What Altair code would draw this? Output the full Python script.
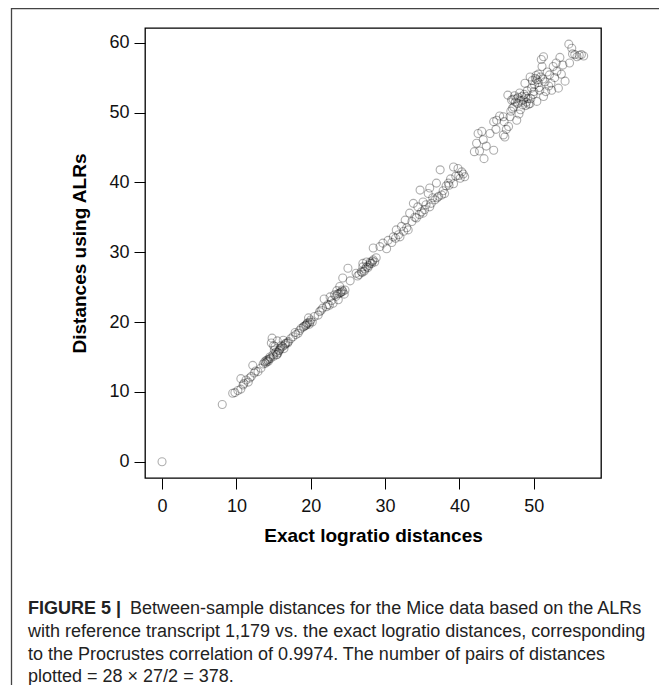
import altair as alt
import pandas as pd

# Exact logratio distances (x) and distances using ALRs (y)
x_exact = [0.0, 8.1, 9.5, 9.8, 10.2, 10.6, 10.9, 10.6, 11.3, 11.6, 12.0, 12.4, 12.2, 12.9, 13.3,
           13.8, 14.0, 14.2, 13.9, 14.5, 14.8, 14.7, 15.1, 15.4, 15.6, 15.8, 15.2, 16.0, 16.3, 16.7,
           16.4, 17.0, 17.6, 17.9, 18.3, 18.7, 19.0, 19.4, 19.6, 19.9, 19.7, 20.5, 21.0, 21.2, 21.6,
           22.1, 21.8, 22.5, 23.0, 23.2, 23.7, 23.5, 24.0, 24.3, 24.5, 23.9, 24.3, 25.0, 25.3, 26.1,
           26.5, 26.8, 27.0, 27.0, 27.5, 27.5, 28.0, 28.4, 28.6, 28.4, 29.3, 29.7, 30.2, 30.4, 30.9,
           31.1, 31.5, 31.8, 32.0, 32.2, 32.5, 32.7, 33.1, 33.3, 33.6, 33.8, 34.0, 34.4, 34.7, 34.9,
           35.1, 35.1, 35.5, 35.8, 36.0, 36.0, 36.4, 36.7, 36.9, 37.2, 37.4, 37.6, 38.0, 38.2, 38.5,
           38.8, 39.2, 39.2, 39.5, 39.8, 40.3, 40.5, 40.7,
           42.0, 42.3, 42.5, 42.7, 43.0, 43.2, 43.3, 43.6, 44.1, 44.6, 44.6, 45.0, 45.4, 45.9, 45.9,
           46.1, 46.3, 46.5, 46.6, 46.8, 47.0, 47.1, 47.3, 47.5, 47.7, 47.7, 48.0, 48.2, 48.4, 48.6,
           48.8, 48.9, 49.2, 49.5, 49.5, 49.7, 49.9, 50.1, 50.4, 50.4, 50.6, 50.8, 51.0, 51.1, 51.3,
           51.3, 51.5, 51.8, 52.0, 52.4, 52.6, 52.8, 53.0, 53.3, 53.5, 53.7, 54.2, 54.7, 54.8, 55.1,
           55.5, 56.1, 56.7,
           47.2, 47.9, 48.3, 48.7, 49.0, 49.3, 50.2, 50.6, 50.9,
           14.3, 14.6, 15.5, 15.7, 16.5, 16.9, 19.3, 19.8, 23.8, 24.1, 27.3, 27.8, 28.2,
           11.0, 11.8, 12.6,
           13.6, 14.1, 14.4, 14.9, 15.3, 15.0, 15.9, 16.2, 16.6, 15.5, 15.0,
           17.3, 18.0, 18.5, 19.1, 19.5, 20.0, 20.2,
           21.4, 22.3, 22.8, 23.4, 23.6, 24.2, 24.6, 22.6,
           26.3, 26.9, 27.2, 27.7, 28.0, 28.3, 28.8,
           31.4, 32.9, 34.2, 34.6, 35.3, 36.2, 37.0, 37.8, 38.6, 39.9, 40.1,
           44.9, 46.0, 46.9, 47.4, 47.8, 48.1, 48.5, 48.9, 49.1, 49.6, 49.8, 50.0, 50.3, 50.7, 51.2,
           51.6, 52.1, 52.3, 53.1, 53.9, 55.2, 55.8, 56.4]
y_alr = [0.0, 8.2, 9.8, 9.9, 10.2, 10.4, 11.0, 11.9, 11.7, 11.4, 12.2, 12.7, 13.8, 12.9, 13.4,
         14.3, 14.5, 14.6, 14.1, 15.0, 17.7, 17.0, 16.0, 15.3, 15.6, 16.0, 16.5, 16.6, 17.4, 17.0,
         16.2, 17.2, 17.9, 18.5, 18.4, 19.1, 19.3, 19.6, 19.9, 20.0, 20.6, 20.8, 21.0, 21.5, 22.0,
         22.2, 23.3, 22.4, 22.7, 23.9, 23.2, 24.5, 24.2, 24.4, 24.0, 25.1, 26.3, 27.7, 25.9, 27.0,
         26.8, 27.2, 27.9, 28.4, 27.9, 28.6, 28.4, 28.9, 28.6, 30.6, 30.8, 31.3, 30.5, 31.7, 31.4,
         32.2, 33.2, 32.5, 32.2, 33.7, 33.0, 34.6, 33.2, 35.6, 34.4, 37.0, 35.0, 36.5, 38.9, 35.8,
         37.2, 35.6, 36.8, 38.4, 39.2, 36.5, 37.8, 37.5, 39.9, 38.0, 41.8, 38.2, 38.4, 39.5, 39.9,
         40.5, 39.8, 42.2, 40.9, 42.0, 41.5, 41.2, 40.8,
         44.4, 45.6, 47.0, 44.5, 47.3, 46.1, 43.4, 45.2, 47.0, 44.6, 48.7, 48.9, 49.5, 49.4, 46.8,
         46.5, 47.6, 52.5, 48.0, 49.4, 51.8, 50.6, 50.8, 51.5, 52.0, 48.9, 49.8, 50.4, 52.3, 51.8,
         54.2, 51.0, 52.0, 51.3, 55.1, 53.5, 52.6, 54.0, 51.6, 54.7, 55.5, 53.2, 57.6, 56.6, 58.0,
         52.3, 54.4, 55.8, 53.8, 53.2, 56.6, 55.0, 57.1, 53.5, 57.9, 55.5, 54.5, 59.8, 57.1, 59.2,
         58.3, 58.2, 58.1,
         51.9, 52.2, 51.7, 52.6, 51.5, 51.2, 54.9, 54.3, 55.1,
         14.4, 14.8, 15.4, 15.9, 16.7, 17.0, 19.5, 19.7, 24.1, 24.3, 27.6, 28.1, 28.4,
         11.2, 12.0, 13.0,
         14.0, 14.3, 14.7, 15.3, 15.7, 15.1, 16.2, 16.5, 16.9, 17.3, 16.6,
         17.6, 18.2, 18.8, 19.4, 19.8, 20.3, 20.0,
         21.7, 22.5, 23.1, 23.7, 24.0, 24.6, 24.6, 23.6,
         26.6, 27.1, 27.3, 27.8, 28.6, 28.7, 29.2,
         32.0, 33.5, 34.9, 35.4, 36.1, 37.0, 37.8, 38.8, 39.6, 41.0, 40.6,
         47.6, 48.7, 50.2, 52.4, 51.3, 52.8, 51.1, 52.3, 53.1, 52.0, 54.6, 53.0, 55.3, 53.6, 54.8,
         53.0, 55.4, 54.2, 55.9, 56.8, 58.4, 58.0, 58.3]

x_ticks = [0, 10, 20, 30, 40, 50]
y_ticks = [0, 10, 20, 30, 40, 50, 60]

caption_bold = "FIGURE 5 |"
caption_lines = [
    "Between-sample distances for the Mice data based on the ALRs",
    "with reference transcript 1,179 vs. the exact logratio distances, corresponding",
    "to the Procrustes correlation of 0.9974. The number of pairs of distances",
    "plotted = 28 \u00d7 27/2 = 378.",
]

df = pd.DataFrame({"exact": x_exact, "alr": y_alr})
one = pd.DataFrame({"a": [0]})

W, H = 456, 450
PB = 215
AXF = "Liberation Sans"
CAPF = "Liberation Sans"

points = alt.Chart(df).mark_point(
    shape="circle", filled=False, size=64, color="black",
    strokeWidth=1.1, strokeOpacity=0.45
).encode(
    x=alt.X("exact:Q",
            scale=alt.Scale(domain=[-2.29, 59.03], nice=False, zero=False),
            axis=alt.Axis(values=x_ticks, title="Exact logratio distances",
                          tickSize=11, tickColor="black", tickWidth=1,
                          domain=False, grid=False,
                          labelFont=AXF, labelFontSize=18, labelColor="#111",
                          labelPadding=8,
                          titleFont=AXF, titleFontSize=19, titleFontWeight="bold",
                          titleColor="black", titleY=63.7, titleBaseline="alphabetic")),
    y=alt.Y("alr:Q",
            scale=alt.Scale(domain=[-2.33, 62.11], nice=False, zero=False),
            axis=alt.Axis(values=y_ticks, title="Distances using ALRs",
                          tickSize=11, tickColor="black", tickWidth=1,
                          domain=False, grid=False,
                          labelFont=AXF, labelFontSize=18, labelColor="#111",
                          labelPadding=5,
                          titleFont=AXF, titleFontSize=19, titleFontWeight="bold",
                          titleColor="black", titleX=-60, titleBaseline="alphabetic")),
)

border_top = alt.Chart(one).mark_rule(color="#444", strokeWidth=1.3).encode(
    x=alt.value(-133), x2=alt.value(W + 58), y=alt.value(-19.4))
border_left = alt.Chart(one).mark_rule(color="#444", strokeWidth=1.3).encode(
    x=alt.value(-133.5), y=alt.value(-20), y2=alt.value(H + PB))

base_y = [586, 609, 632, 654]
cap_layers = [
    alt.Chart(one).mark_text(text=caption_bold, font=CAPF, fontSize=18, fontWeight="bold",
                             align="left", baseline="alphabetic", color="#222").encode(
        x=alt.value(-117), y=alt.value(base_y[0]))
]
cap_x = [-15, -117, -117, -117]
for i, line in enumerate(caption_lines):
    cap_layers.append(
        alt.Chart(one).mark_text(text=line, font=CAPF, fontSize=18,
                                 align="left", baseline="alphabetic", color="#222").encode(
            x=alt.value(cap_x[i]), y=alt.value(base_y[i]))
    )

chart = alt.layer(points, border_top, border_left, *cap_layers).properties(
    width=W, height=H,
    autosize=alt.AutoSizeParams(type="none"),
    padding={"left": 137, "top": 20, "right": 58, "bottom": PB},
    background="white",
).configure_view(stroke="black", strokeWidth=1.3)

chart.save("out.html", embed_options={"renderer": "svg", "actions": False})
